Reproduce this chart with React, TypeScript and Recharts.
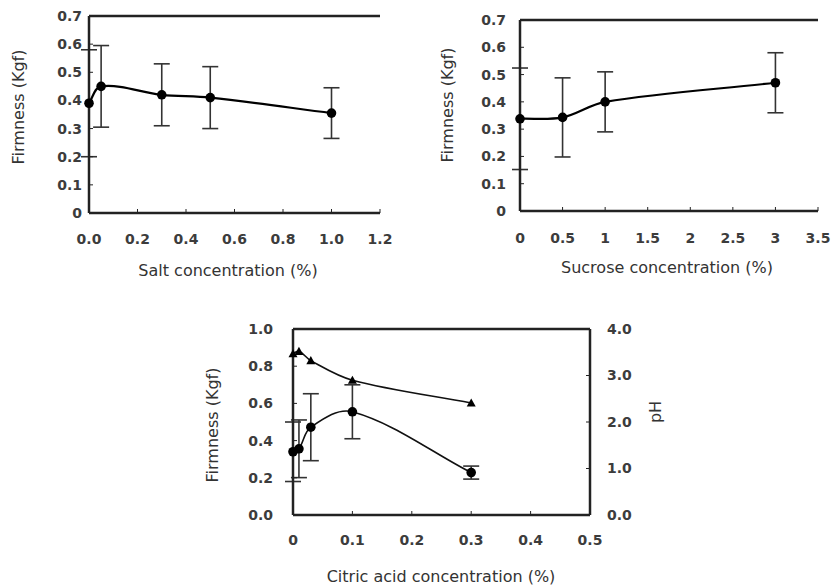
import React from "react";
import { LineChart, Line, XAxis, YAxis, ErrorBar, ReferenceLine } from "recharts";

// ─── Data ────────────────────────────────────────────────────────────────────

const saltX = [0, 0.05, 0.3, 0.5, 1.0];
const saltFirmness = [0.39, 0.45, 0.42, 0.41, 0.355];
const saltErr = [0.19, 0.145, 0.11, 0.11, 0.09];

const sucroseX = [0, 0.5, 1, 3];
const sucroseFirmness = [0.338, 0.343, 0.4, 0.47];
const sucroseErr = [0.186, 0.145, 0.11, 0.11];

const citricX = [0, 0.01, 0.03, 0.1, 0.3];
const citricFirmness = [0.34, 0.356, 0.472, 0.555, 0.228];
const citricErr = [0.16, 0.155, 0.18, 0.145, 0.035];
const citricPH = [3.47, 3.52, 3.32, 2.9, 2.41];

const firmTicks07 = [0, 0.1, 0.2, 0.3, 0.4, 0.5, 0.6, 0.7];
const saltTicks = [0, 0.2, 0.4, 0.6, 0.8, 1.0, 1.2];
const sucroseTicks = [0, 0.5, 1, 1.5, 2, 2.5, 3, 3.5];
const citricTicks = [0, 0.1, 0.2, 0.3, 0.4, 0.5];
const firmTicks10 = [0, 0.2, 0.4, 0.6, 0.8, 1.0];
const phTicks = [0, 1, 2, 3, 4];

// ─── Style ───────────────────────────────────────────────────────────────────

const BOX = "#222";
const TICK = { fontFamily: "DejaVu Sans", fontWeight: 700, fontSize: 14, fill: "#3c3c3c" };
const TITLE_FONT = "DejaVu Sans";

// smooth line similar to spreadsheet "smoothed line"
function smoothCurve(context: any) {
  let pts: number[][] = [];
  return {
    areaStart() {},
    areaEnd() {},
    lineStart() {
      pts = [];
    },
    lineEnd() {
      const n = pts.length;
      if (!n) return;
      context.moveTo(pts[0][0], pts[0][1]);
      if (n === 1) return;
      const dir = (i: number) => {
        const a = pts[Math.max(i - 1, 0)];
        const b = pts[Math.min(i + 1, n - 1)];
        const dx = b[0] - a[0];
        const dy = b[1] - a[1];
        const len = Math.hypot(dx, dy) || 1;
        return [dx / len, dy / len];
      };
      for (let i = 0; i < n - 1; i++) {
        const p = pts[i];
        const q = pts[i + 1];
        const d = Math.hypot(q[0] - p[0], q[1] - p[1]) / 3;
        const t1 = dir(i);
        const t2 = dir(i + 1);
        context.bezierCurveTo(
          p[0] + t1[0] * d,
          p[1] + t1[1] * d,
          q[0] - t2[0] * d,
          q[1] - t2[1] * d,
          q[0],
          q[1],
        );
      }
    },
    point(x: number, y: number) {
      pts.push([+x, +y]);
    },
  };
}

const fmt1 = (v: number) => v.toFixed(1);
const fmtZero = (v: number) => (v === 0 ? "0" : v.toFixed(1));

function Triangle(props: any) {
  const { cx, cy } = props;
  if (cx == null || cy == null) return null;
  const s = 4.5;
  return (
    <polygon
      points={`${cx},${cy - s} ${cx - s},${cy + s * 0.8} ${cx + s},${cy + s * 0.8}`}
      fill="#000"
    />
  );
}

const saltData = saltX.map((x, i) => ({ x, firm: saltFirmness[i], err: saltErr[i] }));
const sucroseData = sucroseX.map((x, i) => ({ x, firm: sucroseFirmness[i], err: sucroseErr[i] }));
const citricData = citricX.map((x, i) => ({
  x,
  firm: citricFirmness[i],
  err: citricErr[i],
  ph: citricPH[i],
}));

const DOT = { r: 4.8, fill: "#000", stroke: "#000", strokeWidth: 0 };

// ─── Panels ──────────────────────────────────────────────────────────────────

function SaltChart() {
  return (
    <LineChart width={400} height={280} data={saltData} margin={{ top: 16, right: 20, bottom: 0, left: 0 }}>
      <XAxis
        dataKey="x"
        type="number"
        domain={[0, 1.2]}
        ticks={saltTicks}
        interval={0}
        tickFormatter={fmt1}
        tick={TICK}
        tickSize={-4}
        tickMargin={25}
        tickLine={{ stroke: BOX }}
        axisLine={{ stroke: BOX, strokeWidth: 2.5 }}
        height={67}
      />
      <YAxis
        type="number"
        domain={[0, 0.7]}
        ticks={firmTicks07}
        interval={0}
        tickFormatter={fmtZero}
        tick={TICK}
        tickSize={-4}
        tickMargin={11}
        tickLine={{ stroke: BOX }}
        axisLine={{ stroke: BOX, strokeWidth: 2.5 }}
        width={89}
      />
      <YAxis yAxisId="r" orientation="right" type="number" domain={[0, 0.7]} width={0} tick={false} tickLine={false} axisLine={{ stroke: BOX, strokeWidth: 2.5 }} />
      <ReferenceLine y={0.7} stroke={BOX} strokeWidth={2.5} />
      <Line
        dataKey="firm"
        type={smoothCurve as any}
        stroke="#000"
        strokeWidth={2.2}
        dot={DOT}
        isAnimationActive={false}
      >
        <ErrorBar dataKey="err" direction="y" width={8} stroke="#333" strokeWidth={1.6} />
      </Line>
    </LineChart>
  );
}

function SucroseChart() {
  return (
    <LineChart width={432} height={280} data={sucroseData} margin={{ top: 20, right: 14, bottom: 0, left: 0 }}>
      <XAxis
        dataKey="x"
        type="number"
        domain={[0, 3.5]}
        ticks={sucroseTicks}
        interval={0}
        tickFormatter={(v: number) => String(v)}
        tick={TICK}
        tickSize={-4}
        tickMargin={26}
        tickLine={{ stroke: BOX }}
        axisLine={{ stroke: BOX, strokeWidth: 2.5 }}
        height={69}
      />
      <YAxis
        type="number"
        domain={[0, 0.7]}
        ticks={firmTicks07}
        interval={0}
        tickFormatter={fmtZero}
        tick={TICK}
        tickSize={-4}
        tickMargin={18}
        tickLine={{ stroke: BOX }}
        axisLine={{ stroke: BOX, strokeWidth: 2.5 }}
        width={120}
      />
      <YAxis yAxisId="r" orientation="right" type="number" domain={[0, 0.7]} width={0} tick={false} tickLine={false} axisLine={{ stroke: BOX, strokeWidth: 2.5 }} />
      <ReferenceLine y={0.7} stroke={BOX} strokeWidth={2.5} />
      <Line
        dataKey="firm"
        type={smoothCurve as any}
        stroke="#000"
        strokeWidth={2.2}
        dot={DOT}
        isAnimationActive={false}
      >
        <ErrorBar dataKey="err" direction="y" width={8} stroke="#333" strokeWidth={1.6} />
      </Line>
    </LineChart>
  );
}

function CitricChart() {
  return (
    <LineChart width={500} height={305} data={citricData} margin={{ top: 49, right: 40, bottom: 0, left: 0 }}>
      <XAxis
        dataKey="x"
        type="number"
        domain={[0, 0.5]}
        ticks={citricTicks}
        interval={0}
        tickFormatter={fmtZero}
        tick={TICK}
        tickSize={-4}
        tickMargin={24}
        tickLine={{ stroke: BOX }}
        axisLine={{ stroke: BOX, strokeWidth: 2.5 }}
        height={70}
      />
      <YAxis
        yAxisId="firm"
        type="number"
        domain={[0, 1]}
        ticks={firmTicks10}
        interval={0}
        tickFormatter={fmt1}
        tick={TICK}
        tickSize={-4}
        tickMargin={24}
        tickLine={{ stroke: BOX }}
        axisLine={{ stroke: BOX, strokeWidth: 2.5 }}
        width={103}
      />
      <YAxis
        yAxisId="ph"
        orientation="right"
        type="number"
        domain={[0, 4]}
        ticks={phTicks}
        interval={0}
        tickFormatter={fmt1}
        tick={TICK}
        tickSize={-4}
        tickMargin={21}
        tickLine={{ stroke: BOX }}
        axisLine={{ stroke: BOX, strokeWidth: 2.5 }}
        width={60}
      />
      <ReferenceLine yAxisId="firm" y={1} stroke={BOX} strokeWidth={2.5} />
      <Line
        yAxisId="ph"
        dataKey="ph"
        type={smoothCurve as any}
        stroke="#111"
        strokeWidth={1.6}
        dot={<Triangle />}
        isAnimationActive={false}
      />
      <Line
        yAxisId="firm"
        dataKey="firm"
        type={smoothCurve as any}
        stroke="#111"
        strokeWidth={1.6}
        dot={DOT}
        isAnimationActive={false}
      >
        <ErrorBar dataKey="err" direction="y" width={8} stroke="#333" strokeWidth={1.6} />
      </Line>
    </LineChart>
  );
}

// ─── Page ────────────────────────────────────────────────────────────────────

export default function App() {
  const title = { fontFamily: TITLE_FONT, fontSize: 16, fill: "#333" } as const;
  return (
    <div style={{ position: "absolute", left: 0, top: 0, width: 832, height: 585, background: "#fff", overflow: "hidden" }}>
      <div style={{ position: "absolute", left: 0, top: 0 }}>
        <SaltChart />
      </div>
      <div style={{ position: "absolute", left: 400, top: 0 }}>
        <SucroseChart />
      </div>
      <div style={{ position: "absolute", left: 190, top: 280 }}>
        <CitricChart />
      </div>
      <svg width={832} height={585} style={{ position: "absolute", left: 0, top: 0, pointerEvents: "none" }}>
        <text x={18} y={107} transform="rotate(-90 18 107)" textAnchor="middle" dominantBaseline="central" {...title}>
          Firmness (Kgf)
        </text>
        <text x={228} y={270} textAnchor="middle" dominantBaseline="central" {...title}>
          Salt concentration (%)
        </text>
        <text x={447} y={105} transform="rotate(-90 447 105)" textAnchor="middle" dominantBaseline="central" {...title}>
          Firmness (Kgf)
        </text>
        <text x={667} y={267} textAnchor="middle" dominantBaseline="central" {...title}>
          Sucrose concentration (%)
        </text>
        <text x={212} y={425} transform="rotate(-90 212 425)" textAnchor="middle" dominantBaseline="central" {...title}>
          Firmness (Kgf)
        </text>
        <text x={655} y={412} transform="rotate(-90 655 412)" textAnchor="middle" dominantBaseline="central" {...title}>
          pH
        </text>
        <text x={441} y={576} textAnchor="middle" dominantBaseline="central" {...title}>
          Citric acid concentration (%)
        </text>
      </svg>
    </div>
  );
}
